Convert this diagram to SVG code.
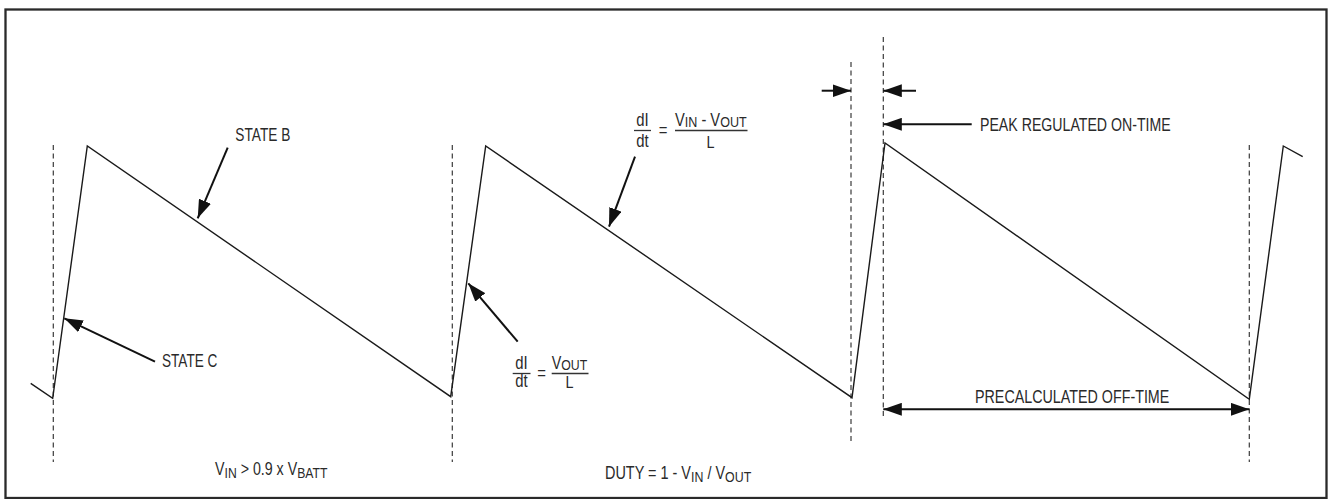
<svg xmlns="http://www.w3.org/2000/svg" width="1328" height="499" viewBox="0 0 1328 499">
<style>
.frame{fill:none;stroke:#2a2a2a;stroke-width:2.3}
.wave{fill:none;stroke:#1a1a1a;stroke-width:1.4;stroke-linejoin:miter}
.dash{stroke:#3a3a3a;stroke-width:1.2;stroke-dasharray:5,3.5;fill:none}
.arr{stroke:#111;stroke-width:2;fill:none;marker-end:url(#ah)}
.arr2{stroke:#111;stroke-width:2;fill:none;marker-end:url(#ah);marker-start:url(#ah)}
.bar{stroke:#333;stroke-width:1.3}
text{font-family:"Liberation Sans",Arial,sans-serif;font-size:17.5px;fill:#2a2a2a}
.sub{font-size:15px}
.den{font-size:16px}
</style>
<defs>
<marker id="ah" markerUnits="userSpaceOnUse" markerWidth="19" markerHeight="13" refX="18.5" refY="6.5" orient="auto-start-reverse">
<path d="M0,0 L18.5,6.5 L0,13 z" fill="#111"/>
</marker>
</defs>
<rect class="frame" x="5.5" y="9.5" width="1321" height="488.5"/>
<g id="gridlines">
<line class="dash" x1="53.3" y1="145" x2="53.3" y2="462"/>
<line class="dash" x1="452.3" y1="145" x2="452.3" y2="462"/>
<line class="dash" x1="851" y1="62" x2="851" y2="443"/>
<line class="dash" x1="883.3" y1="37" x2="883.3" y2="418"/>
<line class="dash" x1="1249.3" y1="145" x2="1249.3" y2="462"/>
</g>
<g id="waveform">
<polyline class="wave" points="30.7,383.3 52.7,398.3 87.3,146 450.7,396.7 485.7,146 852,397.7 885,143 1249.3,399.3 1283.3,146 1302.7,156.7"/>
</g>
<g id="connectors">
<line class="arr" x1="227.7" y1="147.7" x2="197.7" y2="218.3"/>
<line class="arr" x1="155" y1="361.7" x2="64.3" y2="318.3"/>
<line class="arr" x1="517.7" y1="341.7" x2="468.3" y2="283.3"/>
<line class="arr" x1="635" y1="156.7" x2="609" y2="226.7"/>
<line class="arr" x1="821.7" y1="90.7" x2="851" y2="90.7"/>
<line class="arr" x1="916" y1="90.7" x2="883.3" y2="90.7"/>
<line class="arr" x1="971.7" y1="124.3" x2="883.3" y2="124.3"/>
<line class="arr2" x1="883.3" y1="409.3" x2="1249.3" y2="409.3"/>
</g>
<g id="label-state-b"><text x="235.3" y="140.7" textLength="55" lengthAdjust="spacingAndGlyphs">STATE B</text></g>
<g id="label-state-c"><text x="162" y="366.7" textLength="55.3" lengthAdjust="spacingAndGlyphs">STATE C</text></g>
<g id="label-peak"><text x="980" y="130.5" textLength="190.7" lengthAdjust="spacingAndGlyphs">PEAK REGULATED ON-TIME</text></g>
<g id="label-offtime"><text x="975" y="402.7" textLength="194.3" lengthAdjust="spacingAndGlyphs">PRECALCULATED OFF-TIME</text></g>
<g id="formula-top">
<text transform="translate(642.5,126) scale(0.85,1)" text-anchor="middle">dI</text>
<line class="bar" x1="634" y1="130.5" x2="651" y2="130.5"/>
<text transform="translate(642.5,147) scale(0.85,1)" text-anchor="middle">dt</text>
<text transform="translate(663,136) scale(0.85,1)" text-anchor="middle">=</text>
<text transform="translate(675,125.5) scale(0.838,1)">V<tspan class="sub" dy="1.5">IN</tspan><tspan dy="-1.5"> - V</tspan><tspan class="sub" dy="1.5">OUT</tspan></text>
<line class="bar" x1="675" y1="130.5" x2="747.5" y2="130.5"/>
<text class="den" transform="translate(710.5,147.5) scale(0.9,1)" text-anchor="middle">L</text>
</g>
<g id="formula-bottom">
<text transform="translate(521.5,369) scale(0.85,1)" text-anchor="middle">dI</text>
<line class="bar" x1="512.7" y1="373.5" x2="530.5" y2="373.5"/>
<text transform="translate(521.5,387) scale(0.85,1)" text-anchor="middle">dt</text>
<text transform="translate(541.5,379) scale(0.85,1)" text-anchor="middle">=</text>
<text transform="translate(551.7,368.5) scale(0.82,1)">V<tspan class="sub" dy="1.5">OUT</tspan></text>
<line class="bar" x1="551.7" y1="373.5" x2="588.5" y2="373.5"/>
<text class="den" transform="translate(569.5,388) scale(0.9,1)" text-anchor="middle">L</text>
</g>
<g id="label-vin">
<text transform="translate(215,475) scale(0.813,1)">V<tspan class="sub" dy="2.5">IN</tspan><tspan dy="-2.5"> &gt; 0.9 x V</tspan><tspan class="sub" dy="2.5">BATT</tspan></text>
</g>
<g id="label-duty">
<text transform="translate(605,479) scale(0.826,1)">DUTY = 1 - V<tspan class="sub" dy="2.5">IN</tspan><tspan dy="-2.5"> / V</tspan><tspan class="sub" dy="2.5">OUT</tspan></text>
</g>
</svg>
